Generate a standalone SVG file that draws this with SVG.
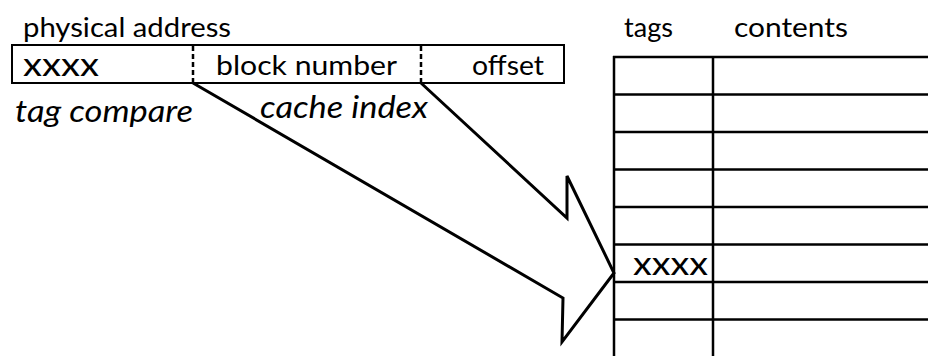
<svg xmlns="http://www.w3.org/2000/svg" width="928" height="356" viewBox="0 0 928 356">
<style>
text { font-family: Lato, "Liberation Sans", sans-serif; fill: #000; }
.lbl { font-size: 27px; }
.it { font-size: 31px; font-style: italic; }
.xx { font-size: 32px; }
.box { fill: none; stroke: #000; stroke-width: 2; }
.dash { stroke: #000; stroke-width: 2.5; stroke-dasharray: 5 3; }
.grid { stroke: #000; stroke-width: 2.5; fill: none; }
.arrow { fill: none; stroke: #000; stroke-width: 3; stroke-linejoin: miter; }
</style>
<rect width="928" height="356" fill="#fff"/>
<g id="address">
  <text class="lbl" x="23" y="37" textLength="208" lengthAdjust="spacingAndGlyphs">physical address</text>
  <rect class="box" x="12" y="45" width="552" height="38"/>
  <line class="dash" x1="193" y1="46" x2="193" y2="83"/>
  <line class="dash" x1="421" y1="46" x2="421" y2="83"/>
  <text class="xx" x="23" y="76" textLength="76" lengthAdjust="spacingAndGlyphs">xxxx</text>
  <text class="lbl" x="216" y="75" textLength="181" lengthAdjust="spacingAndGlyphs">block number</text>
  <text class="lbl" x="472" y="75" textLength="72" lengthAdjust="spacingAndGlyphs">offset</text>
</g>
<g id="tag-compare">
  <text class="it" x="15" y="122" textLength="178" lengthAdjust="spacingAndGlyphs">tag compare</text>
</g>
<g id="cache-index">
  <text class="it" x="260" y="118" textLength="168" lengthAdjust="spacingAndGlyphs">cache index</text>
</g>
<g id="cache">
  <text class="lbl" x="624" y="37" textLength="49" lengthAdjust="spacingAndGlyphs">tags</text>
  <text class="lbl" x="734" y="37" textLength="114" lengthAdjust="spacingAndGlyphs">contents</text>
  <line class="grid" x1="614" y1="56" x2="614" y2="356"/>
  <line class="grid" x1="713" y1="56" x2="713" y2="356"/>
  <line class="grid" x1="613" y1="57" x2="928" y2="57"/>
  <line class="grid" x1="613" y1="94.5" x2="928" y2="94.5"/>
  <line class="grid" x1="613" y1="132" x2="928" y2="132"/>
  <line class="grid" x1="613" y1="169.5" x2="928" y2="169.5"/>
  <line class="grid" x1="613" y1="207" x2="928" y2="207"/>
  <line class="grid" x1="613" y1="244.5" x2="928" y2="244.5"/>
  <line class="grid" x1="613" y1="282" x2="928" y2="282"/>
  <line class="grid" x1="613" y1="319.5" x2="928" y2="319.5"/>
  <text class="xx" x="633" y="275" textLength="75" lengthAdjust="spacingAndGlyphs">xxxx</text>
</g>
<g id="connectors">
  <polyline class="arrow" points="193,83 563,298 562,342 614,273 567,176 567,218 421,83"/>
</g>
</svg>
